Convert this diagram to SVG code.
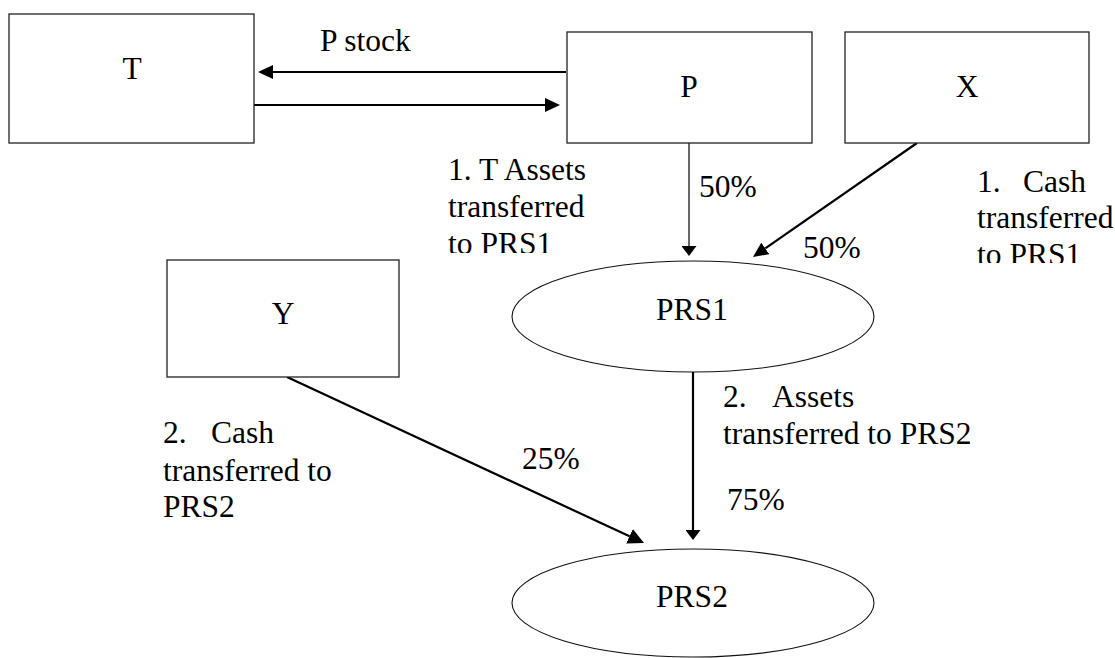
<svg xmlns="http://www.w3.org/2000/svg" width="1115" height="658" viewBox="0 0 1115 658">
<style>
.box{fill:#fff;stroke:#222;stroke-width:1.3}
.ell{fill:#fff;stroke:#111;stroke-width:1.1}
.t{font-family:"Liberation Serif","Times New Roman",serif;font-size:31.5px;fill:#000}
.c{text-anchor:middle}
.ln{stroke:#000;stroke-width:2.2;fill:none}
.thin{stroke:#000;stroke-width:1.2;fill:none}
</style>
<defs>
<marker id="ah" markerUnits="userSpaceOnUse" markerWidth="15" markerHeight="14" refX="0" refY="7" orient="auto"><path d="M0,0 L15,7 L0,14 z" fill="#000"/></marker>
<marker id="ahV" markerUnits="userSpaceOnUse" markerWidth="10" markerHeight="15" refX="0" refY="7.5" orient="auto"><path d="M0,0 L10,7.5 L0,15 z" fill="#000"/></marker>
<marker id="ahB" markerUnits="userSpaceOnUse" markerWidth="16" markerHeight="16" refX="0" refY="8" orient="auto"><path d="M0,0 L16,8 L0,16 z" fill="#000"/></marker>
<clipPath id="clipA"><rect x="400" y="150" width="200" height="103"/></clipPath>
<clipPath id="clipB"><rect x="950" y="160" width="165" height="103"/></clipPath>
</defs>
<rect width="1115" height="658" fill="#fff"/>
<g id="connectors">
<line class="ln" x1="566" y1="72" x2="273" y2="72" marker-end="url(#ah)"/>
<line class="ln" x1="254" y1="105" x2="545" y2="105" marker-end="url(#ah)"/>
<line class="thin" x1="689" y1="143" x2="689" y2="246" marker-end="url(#ahV)"/>
<line class="ln" x1="917" y1="143" x2="765.3" y2="248.4" marker-end="url(#ah)"/>
<line class="ln" x1="693" y1="372" x2="693" y2="530" marker-end="url(#ahV)"/>
<line class="ln" x1="287" y1="377" x2="629.5" y2="536.3" marker-end="url(#ahB)"/>
</g>
<g id="node-T"><rect class="box" x="9" y="14" width="245" height="129"/><text class="t c" x="132" y="79">T</text></g>
<g id="node-P"><rect class="box" x="567" y="32" width="245" height="111"/><text class="t c" x="689" y="97">P</text></g>
<g id="node-X"><rect class="box" x="845" y="32" width="244" height="111"/><text class="t c" x="967" y="97">X</text></g>
<g id="node-Y"><rect class="box" x="167" y="260" width="232" height="117"/><text class="t c" x="283" y="324">Y</text></g>
<g id="node-PRS1"><ellipse class="ell" cx="693" cy="316.5" rx="181" ry="55.5"/><text class="t c" x="692" y="320">PRS1</text></g>
<g id="node-PRS2"><ellipse class="ell" cx="693" cy="603" rx="181" ry="54"/><text class="t c" x="692" y="607">PRS2</text></g>
<g id="labels">
<text class="t" x="320" y="51">P stock</text>
<g clip-path="url(#clipA)"><text class="t"><tspan x="448" y="180">1. T Assets</tspan><tspan x="448" y="217">transferred</tspan><tspan x="448" y="254">to PRS1</tspan></text></g>
<text class="t" x="699" y="197">50%</text>
<text class="t" x="803" y="258">50%</text>
<g clip-path="url(#clipB)"><text class="t"><tspan x="977" y="192">1.</tspan><tspan x="1023" y="192">Cash</tspan><tspan x="977" y="228">transferred</tspan><tspan x="977" y="265">to PRS1</tspan></text></g>
<text class="t"><tspan x="723" y="407">2.</tspan><tspan x="772" y="407">Assets</tspan><tspan x="723" y="444">transferred to PRS2</tspan></text>
<text class="t" x="727" y="510">75%</text>
<text class="t"><tspan x="163" y="443">2.</tspan><tspan x="211" y="443">Cash</tspan><tspan x="163" y="481">transferred to</tspan><tspan x="163" y="517">PRS2</tspan></text>
<text class="t" x="522" y="469">25%</text>
</g>
</svg>
